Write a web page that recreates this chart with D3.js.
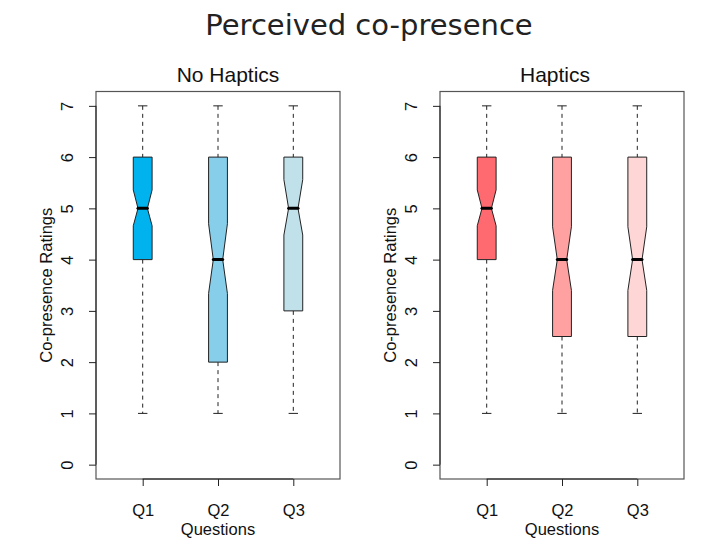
<!DOCTYPE html>
<html>
<head>
<meta charset="UTF-8">
<title>Perceived co-presence</title>
<script src="https://cdn.jsdelivr.net/npm/d3@7"></script>
<style type="text/css">
	body { margin:0; background-color:white; }
	text { font-family: "Liberation Sans", Arial, sans-serif; fill:#111; }
</style>
</head>
<body>
<script type="text/javascript">

// donnees
var questions = ['Q1', 'Q2', 'Q3'];
var yTicks = [0, 1, 2, 3, 4, 5, 6, 7];

var noHapLow   = [1, 1, 1],
    noHapQ1    = [4, 2, 3],
    noHapMed   = [5, 4, 5],
    noHapQ3    = [6, 6, 6],
    noHapHigh  = [7, 7, 7],
    noHapNotchLo = [4.66, 3.34, 4.48],
    noHapNotchHi = [5.36, 4.70, 5.56];

var hapLow   = [1, 1, 1],
    hapQ1    = [4, 2.5, 2.5],
    hapMed   = [5, 4, 4],
    hapQ3    = [6, 6, 6],
    hapHigh  = [7, 7, 7],
    hapNotchLo = [4.66, 3.40, 3.40],
    hapNotchHi = [5.36, 4.64, 4.64];

var noHapColors = ['#00b2ee', '#87ceeb', '#c0e0ea'];
var hapColors   = ['#ff6a70', '#ffa1a1', '#ffd6d6'];

var large = 709, haut = 538;
var fs = 16.5;

var svg = d3.select('body').append('svg')
	.attr('width', large)
	.attr('height', haut);

svg.append('text')
	.attr('x', 369).attr('y', 35)
	.attr('text-anchor', 'middle')
	.style('font-family', '"DejaVu Sans", Verdana, sans-serif')
	.style('font-size', '29px')
	.style('fill', '#222')
	.text('Perceived co-presence');

function build(low, q1, med, q3, high, nlo, nhi) {
	return questions.map(function(q, i) {
		return {q:q, i:i+1, low:low[i], q1:q1[i], med:med[i], q3:q3[i], high:high[i], nlo:nlo[i], nhi:nhi[i]};
	});
}

var panels = [
	{title:'No Haptics', x0:96, x1:340, tx:228, colors:noHapColors,
	 data:build(noHapLow, noHapQ1, noHapMed, noHapQ3, noHapHigh, noHapNotchLo, noHapNotchHi)},
	{title:'Haptics', x0:440, x1:684, tx:555, colors:hapColors,
	 data:build(hapLow, hapQ1, hapMed, hapQ3, hapHigh, hapNotchLo, hapNotchHi)}
];

var yTop = 91.5, yBot = 479;
var y = d3.scaleLinear().domain([-0.28, 7.28]).range([yBot, yTop]);

panels.forEach(function(p) {
	var x = d3.scaleLinear().domain([0.38, 3.62]).range([p.x0, p.x1]);
	var g = svg.append('g');
	var wid = (x(1.125) - x(1)); // demi-largeur de boite
	var nf = 0.5;

	// cadre
	g.append('rect')
		.attr('x', p.x0).attr('y', yTop)
		.attr('width', p.x1 - p.x0).attr('height', yBot - yTop)
		.attr('fill', 'none').attr('stroke', '#555').attr('stroke-width', 1.2);

	// titre du panneau
	g.append('text')
		.attr('x', p.tx).attr('y', 82)
		.attr('text-anchor', 'middle')
		.style('font-size', '21px')
		.text(p.title);

	// axe y
	var ay = g.append('g')
		.attr('transform', 'translate(' + p.x0 + ',0)')
		.call(d3.axisLeft(y).tickValues(yTicks).tickSize(7).tickSizeOuter(0).tickFormat(d3.format('d')));
	ay.select('.domain').attr('d', 'M0,' + y(0) + 'V' + y(7)).attr('stroke', '#222');
	ay.selectAll('.tick line').attr('stroke', '#222');
	ay.selectAll('.tick text')
		.attr('x', null).attr('dy', null)
		.attr('transform', 'translate(-29,0) rotate(-90)')
		.attr('text-anchor', 'middle')
		.attr('dominant-baseline', 'central')
		.style('font-size', fs + 'px')
		.style('font-family', '"Liberation Sans", Arial, sans-serif')
		.attr('fill', '#111');

	// axe x
	var ax = g.append('g')
		.attr('transform', 'translate(0,' + yBot + ')')
		.call(d3.axisBottom(x).tickValues([1, 2, 3]).tickSize(7).tickFormat(function(d) { return questions[d - 1]; }));
	ax.select('.domain').attr('d', 'M' + x(1) + ',0H' + x(3)).attr('stroke', '#222');
	ax.selectAll('.tick line').attr('stroke', '#222');
	ax.selectAll('.tick text')
		.attr('y', 31).attr('dy', null)
		.attr('dominant-baseline', 'central')
		.style('font-size', fs + 'px')
		.style('font-family', '"Liberation Sans", Arial, sans-serif')
		.attr('fill', '#111');

	// titres des axes
	g.append('text')
		.attr('x', (p.x0 + p.x1) / 2).attr('y', 535)
		.attr('text-anchor', 'middle')
		.style('font-size', fs + 'px')
		.text('Questions');
	g.append('text')
		.attr('transform', 'translate(' + (p.x0 - 44) + ',' + ((yTop + yBot) / 2) + ') rotate(-90)')
		.attr('text-anchor', 'middle')
		.style('font-size', fs + 'px')
		.text('Co-presence Ratings');

	var b = g.selectAll('.box').data(p.data).enter().append('g').attr('class', 'box');

	// moustaches
	b.append('line')
		.attr('x1', function(d) { return x(d.i); }).attr('x2', function(d) { return x(d.i); })
		.attr('y1', function(d) { return y(d.high); }).attr('y2', function(d) { return y(d.q3); })
		.attr('stroke', '#222').attr('stroke-dasharray', '4,4');
	b.append('line')
		.attr('x1', function(d) { return x(d.i); }).attr('x2', function(d) { return x(d.i); })
		.attr('y1', function(d) { return y(d.q1); }).attr('y2', function(d) { return y(d.low); })
		.attr('stroke', '#222').attr('stroke-dasharray', '4,4');
	b.append('line')
		.attr('x1', function(d) { return x(d.i) - wid / 2; }).attr('x2', function(d) { return x(d.i) + wid / 2; })
		.attr('y1', function(d) { return y(d.high); }).attr('y2', function(d) { return y(d.high); })
		.attr('stroke', '#222');
	b.append('line')
		.attr('x1', function(d) { return x(d.i) - wid / 2; }).attr('x2', function(d) { return x(d.i) + wid / 2; })
		.attr('y1', function(d) { return y(d.low); }).attr('y2', function(d) { return y(d.low); })
		.attr('stroke', '#222');

	// boite a encoche
	b.append('path')
		.attr('d', function(d) {
			var c = x(d.i);
			var pts = [
				[c - wid, y(d.q1)], [c - wid, y(d.nlo)], [c - wid * nf, y(d.med)], [c - wid, y(d.nhi)],
				[c - wid, y(d.q3)], [c + wid, y(d.q3)], [c + wid, y(d.nhi)], [c + wid * nf, y(d.med)],
				[c + wid, y(d.nlo)], [c + wid, y(d.q1)]
			];
			return d3.line()(pts) + 'Z';
		})
		.attr('fill', function(d, i) { return p.colors[i]; })
		.attr('stroke', '#222').attr('stroke-width', 1);

	// mediane
	b.append('line')
		.attr('x1', function(d) { return x(d.i) - wid * nf; }).attr('x2', function(d) { return x(d.i) + wid * nf; })
		.attr('y1', function(d) { return y(d.med); }).attr('y2', function(d) { return y(d.med); })
		.attr('stroke', '#000').attr('stroke-width', 3).attr('stroke-linecap', 'round');
});

</script>
</body>
</html>
